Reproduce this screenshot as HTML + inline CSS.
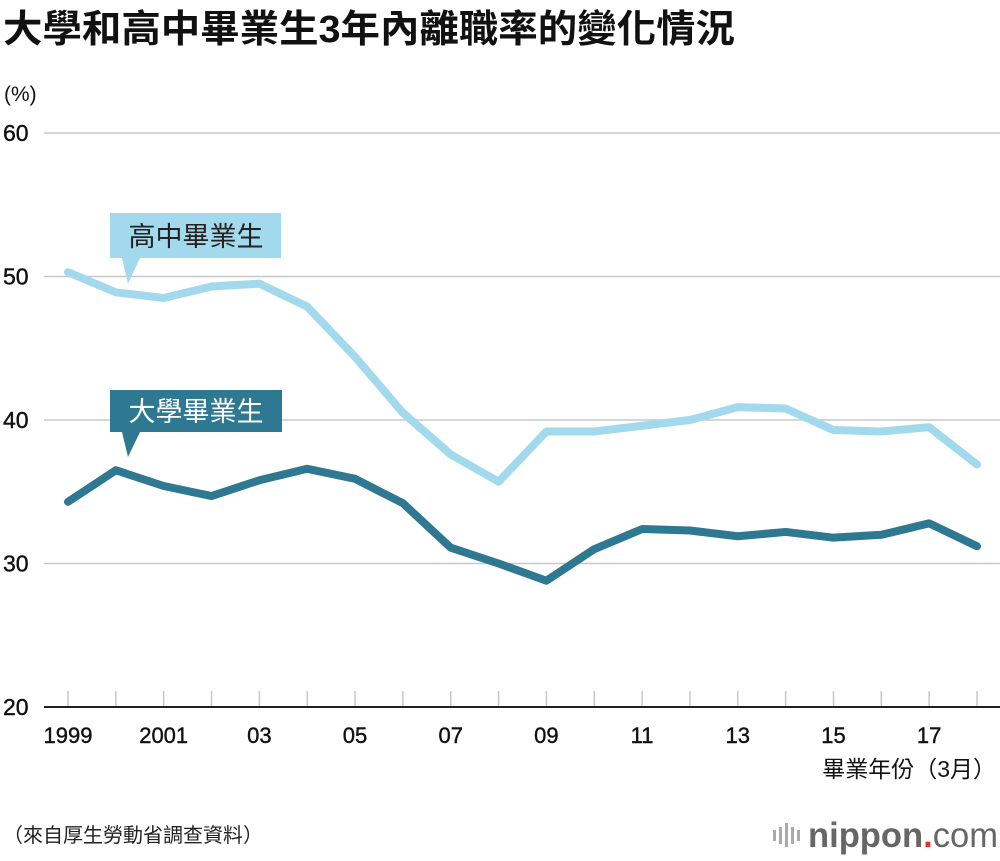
<!DOCTYPE html>
<html><head><meta charset="utf-8">
<style>
html,body{margin:0;padding:0;background:#fff;}
body{width:1000px;height:856px;overflow:hidden;font-family:"Liberation Sans","Noto Sans CJK TC",sans-serif;}
svg text{font-family:"Liberation Sans","Noto Sans CJK TC",sans-serif;}
</style></head>
<body>
<svg id="chart" width="1000" height="856">
<text x="3" y="42" font-size="38" font-weight="bold" fill="#111" textLength="732" lengthAdjust="spacingAndGlyphs">大學和高中畢業生3年內離職率的變化情況</text>
<text x="4" y="101" font-size="21" fill="#111">(%)</text>
<g id="grid"></g>
<g id="lines"></g>
<g>
<rect x="110" y="213" width="171" height="45" fill="#a3d9ec"/>
<polygon points="122,258 140,258 128,284" fill="#a3d9ec"/>
<text x="196" y="246" font-size="27" text-anchor="middle" fill="#222">高中畢業生</text>
</g>
<g>
<rect x="110" y="390" width="172" height="42" fill="#2f7891"/>
<polygon points="122,432 140,432 128,457" fill="#2f7891"/>
<text x="196" y="421" font-size="27" text-anchor="middle" fill="#fff">大學畢業生</text>
</g>
<text x="996" y="777" font-size="23" text-anchor="end" fill="#111">畢業年份（3月）</text>
<text x="3" y="842" font-size="20" fill="#222">（來自厚生勞動省調查資料）</text>
<g>
<g fill="#aaa"><rect x="773" y="830" width="3" height="11"/><rect x="779" y="827" width="3" height="17"/><rect x="785" y="823" width="3" height="24"/><rect x="791" y="827" width="3" height="17"/><rect x="797" y="830" width="3" height="11"/></g>
<text x="808" y="847" font-size="35" font-weight="bold" fill="#666" textLength="190" lengthAdjust="spacingAndGlyphs">nippon<tspan fill="#e8302f">.</tspan><tspan font-weight="normal">com</tspan></text>
</g>
</svg>
<script>
const years=["1999","2000","2001","2002","2003","2004","2005","2006","2007","2008","2009","2010","2011","2012","2013","2014","2015","2016","2017","2018"];
const xLabels=["1999","","2001","","03","","05","","07","","09","","11","","13","","15","","17",""];
const highSchool=[50.3,48.9,48.5,49.3,49.5,47.9,44.4,40.5,37.6,35.7,39.2,39.2,39.6,40.0,40.9,40.8,39.3,39.2,39.5,36.9];
const university=[34.3,36.5,35.4,34.7,35.8,36.6,35.9,34.2,31.1,30.0,28.8,31.0,32.4,32.3,31.9,32.2,31.8,32.0,32.8,31.2];
const yTicks=[20,30,40,50,60];
const NS="http://www.w3.org/2000/svg";
function y(v){return 707-(v-20)*(707-133)/40;}
function x(i){return 68+i*(977-68)/(years.length-1);}
const grid=document.getElementById('grid');
yTicks.forEach(t=>{
  const l=document.createElementNS(NS,'line');
  l.setAttribute('x1',44);l.setAttribute('x2',1000);
  l.setAttribute('y1',y(t));l.setAttribute('y2',y(t));
  l.setAttribute('stroke',t===20?'#222':'#c8c8c8');l.setAttribute('stroke-width',t===20?2:1.5);
  
  
  grid.appendChild(l);
  const tx=document.createElementNS(NS,'text');
  tx.setAttribute('x',3);tx.setAttribute('y',y(t)+8);tx.setAttribute('font-size',23);tx.setAttribute('fill','#111');
  tx.setAttribute('stroke','#111');tx.setAttribute('stroke-width',0.4);
  tx.textContent=t;
  
  
  grid.appendChild(tx);
});
years.forEach((yr,i)=>{
  const l=document.createElementNS(NS,'line');
  l.setAttribute('x1',x(i));l.setAttribute('x2',x(i));l.setAttribute('y1',691);l.setAttribute('y2',706);
  l.setAttribute('stroke','#c8c8c8');l.setAttribute('stroke-width',1.5);
  
  
  grid.appendChild(l);
  if(xLabels[i]){
    const tx=document.createElementNS(NS,'text');
    tx.setAttribute('x',x(i));tx.setAttribute('y',743);tx.setAttribute('font-size',22);tx.setAttribute('text-anchor','middle');tx.setAttribute('fill','#111');
    tx.setAttribute('stroke','#111');tx.setAttribute('stroke-width',0.4);
    tx.textContent=xLabels[i];
    
    
    grid.appendChild(tx);
  }
});
function drawLine(vals,color,name){
  const p=document.createElementNS(NS,'polyline');
  p.setAttribute('points',vals.map((v,i)=>x(i)+','+y(v)).join(' '));
  p.setAttribute('fill','none');p.setAttribute('stroke',color);p.setAttribute('stroke-width',8);
  p.setAttribute('stroke-linejoin','round');p.setAttribute('stroke-linecap','round');
  
  
  document.getElementById('lines').appendChild(p);
}
drawLine(highSchool,'#a3d9ec','high-school-line');
drawLine(university,'#2f7891','university-line');
</script>
</body></html>
